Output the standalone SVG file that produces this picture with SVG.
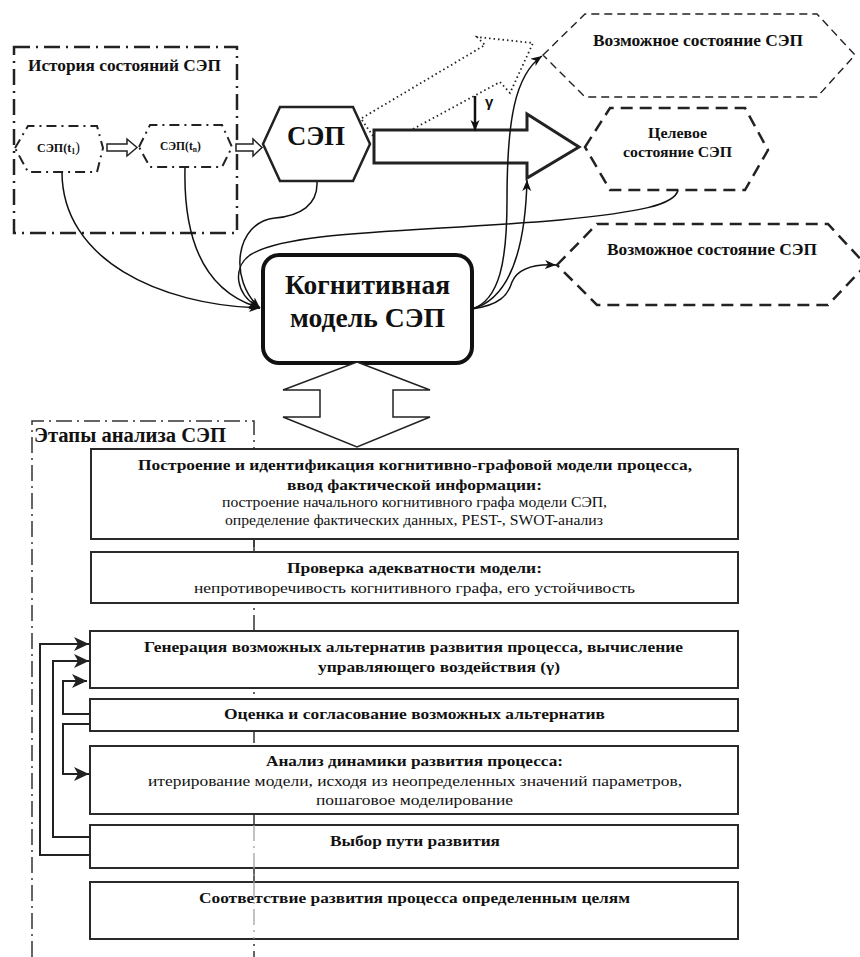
<svg xmlns="http://www.w3.org/2000/svg" width="860" height="957" viewBox="0 0 860 957">
<style>
.b{font-family:'Liberation Serif','Times New Roman',serif;font-weight:bold;fill:#111}
.n{font-family:'Liberation Serif','Times New Roman',serif;font-weight:normal;fill:#111}
.box{fill:#fff;stroke:#2a2a2a;stroke-width:2}
.dd{fill:none;stroke:#222;stroke-width:2.5;stroke-dasharray:16 6 2 6}
.ddh{fill:#fff;stroke:#222;stroke-width:2;stroke-dasharray:10 5 2 5}
.curve{fill:none;stroke:#111;stroke-width:1.5}
.fb{fill:none;stroke:#222;stroke-width:2}
</style>
<defs>
<marker id="ah" markerUnits="userSpaceOnUse" markerWidth="12" markerHeight="10" refX="11" refY="4.5" orient="auto"><path d="M0,0 L11,4.5 L0,9 L3,4.5 z" fill="#111"/></marker>
<marker id="ahb" markerUnits="userSpaceOnUse" markerWidth="16" markerHeight="14" refX="15" refY="7" orient="auto"><path d="M0,0 L15,7 L0,14 L4,7 z" fill="#222"/></marker>
</defs>

<g id="stages-frame">
<path d="M32,957 V421 H254 V957" fill="none" stroke="#333" stroke-width="1.5" stroke-dasharray="16 5 2 5"/>
<text class="b" x="34" y="442" font-size="20" textLength="192" lengthAdjust="spacingAndGlyphs">Этапы анализа СЭП</text>
</g>

<g id="history">
<rect x="14" y="47" width="223" height="186" class="dd"/>
<text class="b" x="28" y="71" font-size="17" textLength="193" lengthAdjust="spacingAndGlyphs">История состояний СЭП</text>
</g>
<g id="sep-t1">
<polygon points="15,148 28,126 97,126 103,148 97,172 28,172" class="ddh"/>
<text class="b" x="37" y="152" font-size="12">СЭП(t<tspan font-size="8" dy="2">1</tspan><tspan dy="-2" font-size="14" font-weight="normal">)</tspan></text>
</g>
<g id="sep-tn">
<polygon points="139,147 150,125 222,125 232,147 222,167 150,167" class="ddh"/>
<text class="b" x="160" y="150" font-size="11.5">СЭП(t<tspan font-size="7.5" dy="2">n</tspan><tspan dy="-2">)</tspan></text>
</g>
<g id="sep">
<polygon points="263,144 280,107 353,107 370,144 353,181 280,181" fill="#fff" stroke="#222" stroke-width="2.5"/>
<text class="b" x="287" y="145" font-size="28" textLength="58" lengthAdjust="spacingAndGlyphs">СЭП</text>
</g>
<g id="big-arrow">
<polygon points="374,130 527,130 527,114 579,147 527,178 527,163 374,163" fill="#fff" stroke="#222" stroke-width="3"/>
</g>
<g id="gamma">
<line x1="475" y1="96" x2="475" y2="131" stroke="#111" stroke-width="2.5" marker-end="url(#ah)"/>
<text x="485" y="107" font-family="'Liberation Sans',Arial,sans-serif" font-weight="bold" font-size="15" fill="#111">γ</text>
</g>
<g id="possible-1">
<polygon points="543,55 585,14 817,14 855,55 817,97 585,97" fill="none" stroke="#222" stroke-width="1.4" stroke-dasharray="8 5"/>
<text class="b" x="593" y="46" font-size="16" textLength="210" lengthAdjust="spacingAndGlyphs">Возможное состояние СЭП</text>
</g>
<g id="target">
<polygon points="585,147 610,108 745,108 768,150 745,190 610,190" fill="none" stroke="#222" stroke-width="2.5" stroke-dasharray="12 7"/>
<text class="b" x="648" y="138" font-size="14" textLength="59" lengthAdjust="spacingAndGlyphs">Целевое</text>
<text class="b" x="623" y="157" font-size="14" textLength="109" lengthAdjust="spacingAndGlyphs">состояние СЭП</text>
</g>
<g id="possible-2">
<polygon points="557,265 597,224 828,224 866,265 828,305 597,305" fill="none" stroke="#222" stroke-width="2.5" stroke-dasharray="12 7"/>
<text class="b" x="607" y="255" font-size="16" textLength="210" lengthAdjust="spacingAndGlyphs">Возможное состояние СЭП</text>
</g>
<g id="cognitive-model">
<rect x="263" y="255" width="209" height="108" rx="16" fill="#fff" stroke="#111" stroke-width="4"/>
<text class="b" x="285" y="294" font-size="27" textLength="165" lengthAdjust="spacingAndGlyphs">Когнитивная</text>
<text class="b" x="290" y="327" font-size="27" textLength="155" lengthAdjust="spacingAndGlyphs">модель СЭП</text>
</g>
<g id="double-arrow">
<polygon points="357,362 430,390 393,390 393,417 430,417 357,447 283,417 320,417 320,390 283,390" fill="#fff" stroke="#222" stroke-width="1.5"/>
</g>

<g id="connectors">
<polygon points="107,144 127,144 127,139 137,147.5 127,156 127,151 107,151" fill="#fff" stroke="#222" stroke-width="1.5"/>
<polygon points="236,144 253,144 253,139 262,147.5 253,156 253,151 236,151" fill="#fff" stroke="#222" stroke-width="1.5"/>
<path d="M362,118 L485,45 L477,37 L533,43 L510,93 L500,82 L413,129" fill="none" stroke="#222" stroke-width="1.8" stroke-dasharray="1.5 3"/>
<path d="M362,120 L373,136" fill="none" stroke="#222" stroke-width="1.8" stroke-dasharray="1.5 3"/>
<path class="curve" d="M62,172 C62,260 160,305 260,308" marker-end="url(#ah)"/>
<path class="curve" d="M185,168 C183,255 215,295 260,308" marker-end="url(#ah)"/>
<path class="curve" d="M317,182 C318,205 300,216 275,218 C235,222 228,280 260,308" marker-end="url(#ah)"/>
<path class="curve" d="M678,190 C675,205 640,212 560,220 C420,232 290,230 250,255 C232,268 235,295 260,308" marker-end="url(#ah)"/>
<path class="curve" d="M472,309 C500,300 507,260 507,200 C507,120 515,75 542,56" marker-end="url(#ah)"/>
<path class="curve" d="M472,309 C505,300 525,260 527,180" marker-end="url(#ah)"/>
<path class="curve" d="M472,309 C500,305 508,295 512,282 C518,268 535,264 556,265" marker-end="url(#ah)"/>
<path class="fb" d="M90,855 H40 V644 H89" marker-end="url(#ahb)"/>
<path class="fb" d="M90,837 H53 V661 H89" marker-end="url(#ahb)"/>
<path class="fb" d="M90,714 H63 V681 H87" marker-end="url(#ahb)"/>
<path class="fb" d="M90,724 H63 V774 H89" marker-end="url(#ahb)"/>
</g>

<g id="stage-1">
<rect x="91" y="449" width="647" height="90" class="box"/>
<text class="b" x="138" y="470" font-size="15" textLength="554" lengthAdjust="spacingAndGlyphs">Построение и идентификация когнитивно-графовой модели процесса,</text>
<text class="b" x="287" y="490" font-size="15" textLength="255" lengthAdjust="spacingAndGlyphs">ввод фактической информации:</text>
<text class="n" x="222" y="507" font-size="14" textLength="385" lengthAdjust="spacingAndGlyphs">построение начального когнитивного графа модели СЭП,</text>
<text class="n" x="225" y="525" font-size="14" textLength="378" lengthAdjust="spacingAndGlyphs">определение фактических данных, PEST-, SWOT-анализ</text>
</g>
<g id="stage-2">
<rect x="91" y="552" width="647" height="51" class="box"/>
<text class="b" x="287" y="573" font-size="15" textLength="255" lengthAdjust="spacingAndGlyphs">Проверка адекватности модели:</text>
<text class="n" x="194" y="593" font-size="14" textLength="441" lengthAdjust="spacingAndGlyphs">непротиворечивость когнитивного графа, его устойчивость</text>
</g>
<g id="stage-3">
<rect x="90" y="631" width="648" height="57" class="box"/>
<text class="b" x="144" y="652" font-size="15" textLength="539" lengthAdjust="spacingAndGlyphs">Генерация возможных альтернатив развития процесса, вычисление</text>
<text class="b" x="318" y="672" font-size="15" textLength="242" lengthAdjust="spacingAndGlyphs">управляющего воздействия (γ)</text>
</g>
<g id="stage-4">
<rect x="90" y="699" width="648" height="32" class="box"/>
<text class="b" x="224" y="719" font-size="15" textLength="381" lengthAdjust="spacingAndGlyphs">Оценка и согласование возможных альтернатив</text>
</g>
<g id="stage-5">
<rect x="90" y="746" width="648" height="68" class="box"/>
<text class="b" x="266" y="766" font-size="15" textLength="297" lengthAdjust="spacingAndGlyphs">Анализ динамики развития процесса:</text>
<text class="n" x="148" y="786" font-size="14" textLength="534" lengthAdjust="spacingAndGlyphs">итерирование модели, исходя из неопределенных значений параметров,</text>
<text class="n" x="316" y="805" font-size="14" textLength="197" lengthAdjust="spacingAndGlyphs">пошаговое моделирование</text>
</g>
<g id="stage-6">
<rect x="90" y="825" width="648" height="43" class="box"/>
<text class="b" x="330" y="846" font-size="15" textLength="170" lengthAdjust="spacingAndGlyphs">Выбор пути развития</text>
</g>
<g id="stage-7">
<rect x="90" y="882" width="648" height="57" class="box"/>
<text class="b" x="199" y="903" font-size="15" textLength="431" lengthAdjust="spacingAndGlyphs">Соответствие развития процесса определенным целям</text>
</g>
<g id="stages-axis-overlay">
<line x1="254" y1="539" x2="254" y2="552" stroke="#333" stroke-width="1.5"/>
<line x1="254" y1="825" x2="254" y2="939" stroke="#999" stroke-width="1.2" stroke-dasharray="16 5 2 5"/>
</g>
</svg>
